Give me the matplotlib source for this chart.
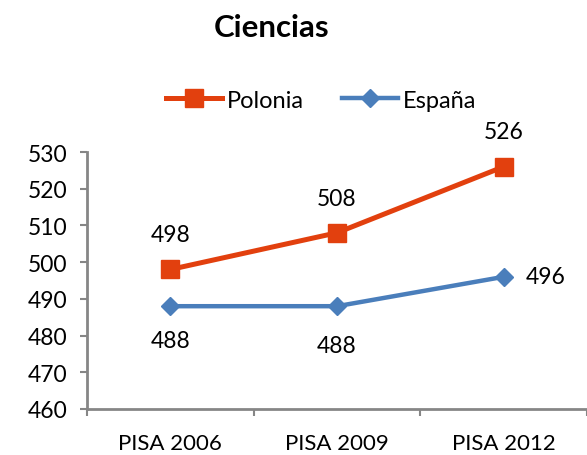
import matplotlib
matplotlib.use("Agg")
import matplotlib.pyplot as plt
from matplotlib.lines import Line2D

categories = ["PISA 2006", "PISA 2009", "PISA 2012"]
polonia = [498, 508, 526]
espana = [488, 488, 496]

plt.rcParams['font.family'] = ['Lato', 'DejaVu Sans']

fig = plt.figure(figsize=(5.87, 4.56), dpi=100)
ax = fig.add_axes([87/587, 1-410/456, 1-87/587, (410-153)/456])

orange = '#E2400E'
blue = '#4A7EBB'
x = list(range(len(categories)))
ax.plot(x, polonia, color=orange, lw=3.6, marker='s', ms=13, mfc=orange, mec=orange, label='Polonia', zorder=3)
ax.plot(x, espana, color=blue, lw=3.2, marker='D', ms=9, mfc=blue, mec=blue, label='España', zorder=3)

fs = 16.5
for xi, v in zip(x, polonia):
    ax.annotate(str(v), (xi, v), xytext=(0, 25), textcoords='offset points', ha='center', va='center', fontsize=fs)
for xi, v in zip(x, espana):
    if xi == 2:
        ax.annotate(str(v), (xi, v), xytext=(30, 0), textcoords='offset points', ha='center', va='center', fontsize=fs)
    else:
        ax.annotate(str(v), (xi, v), xytext=(0, -25 if xi == 0 else -28), textcoords='offset points', ha='center', va='center', fontsize=fs)

ax.set_ylim(460, 530)
ax.set_yticks(range(460, 531, 10))
ax.set_xlim(-0.5, 2.44)
ax.set_xticks(x)
ax.set_xticklabels(categories)
ax.set_xticks([-0.5, 0.5, 1.5, 2.5], minor=True)
ax.tick_params(axis='x', which='major', length=0, pad=17, labelsize=16)
ax.tick_params(axis='x', which='minor', length=5, width=1.5, color='#868686', direction='out')
ax.tick_params(axis='y', length=5, width=1.5, color='#868686', labelsize=fs, pad=9)
for s in ['top', 'right']:
    ax.spines[s].set_visible(False)
for s in ['left', 'bottom']:
    ax.spines[s].set_color('#868686')
    ax.spines[s].set_linewidth(2)

fig.text(272/587, 1-28/456, 'Ciencias', ha='center', va='center', fontsize=22.5, fontweight='bold')

handles = [Line2D([], [], color=orange, lw=3.6, marker='s', ms=13),
           Line2D([], [], color=blue, lw=3.2, marker='D', ms=9)]
fig.legend(handles, ['Polonia', 'España'], loc='center', bbox_to_anchor=(321/587, 1-101/456),
           ncol=2, frameon=False, fontsize=17, handlelength=2.4, handletextpad=0.2, columnspacing=1.6)

fig.savefig('out.png', dpi=100)
